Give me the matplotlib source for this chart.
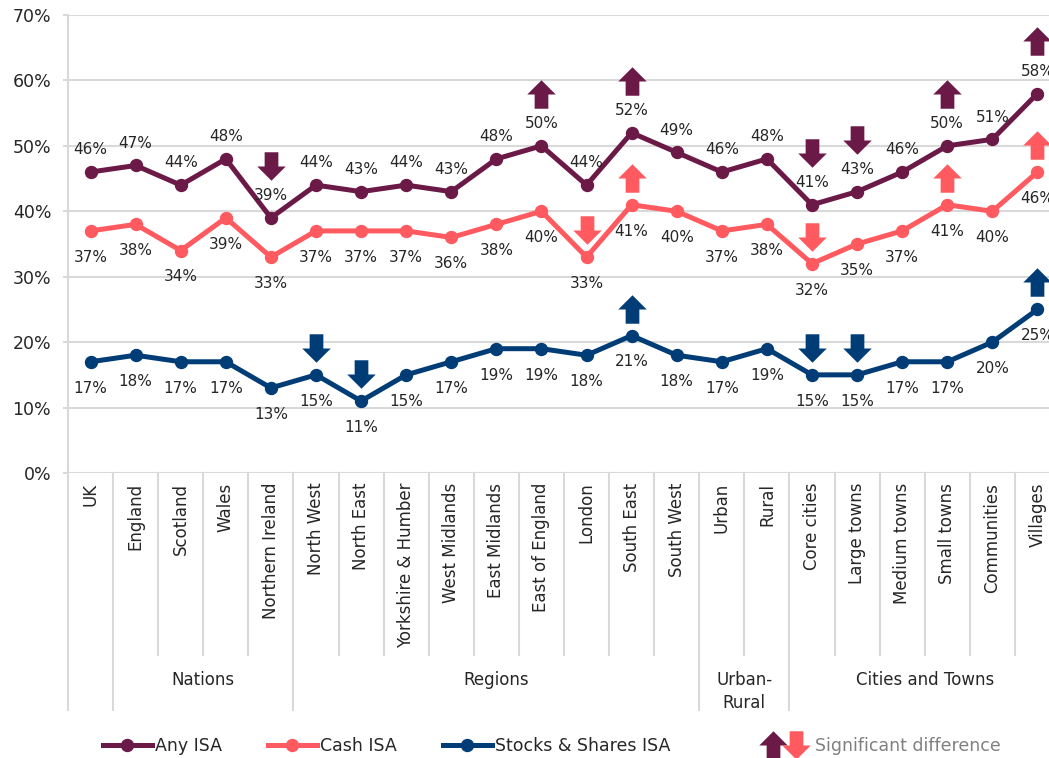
import matplotlib.pyplot as plt
import matplotlib.transforms as mtransforms
from matplotlib.lines import Line2D
from matplotlib.path import Path
from matplotlib.legend_handler import HandlerTuple

categories = ["UK", "England", "Scotland", "Wales", "Northern Ireland",
              "North West", "North East", "Yorkshire & Humber", "West Midlands",
              "East Midlands", "East of England", "London", "South East",
              "South West", "Urban", "Rural", "Core cities", "Large towns",
              "Medium towns", "Small towns", "Communities", "Villages"]

any_isa = [46, 47, 44, 48, 39, 44, 43, 44, 43, 48, 50, 44, 52, 49, 46, 48,
           41, 43, 46, 50, 51, 58]
cash_isa = [37, 38, 34, 39, 33, 37, 37, 37, 36, 38, 40, 33, 41, 40, 37, 38,
            32, 35, 37, 41, 40, 46]
stocks_isa = [17, 18, 17, 17, 13, 15, 11, 15, 17, 19, 19, 18, 21, 18, 17, 19,
              15, 15, 17, 17, 20, 25]

# significant difference vs UK: +1 higher, -1 lower, 0 none
any_sig = [0, 0, 0, 0, -1, 0, 0, 0, 0, 0, 1, 0, 1, 0, 0, 0, -1, -1, 0, 1, 0, 1]
cash_sig = [0, 0, 0, 0, 0, 0, 0, 0, 0, 0, 0, -1, 1, 0, 0, 0, -1, 0, 0, 1, 0, 1]
stocks_sig = [0, 0, 0, 0, 0, -1, -1, 0, 0, 0, 0, 0, 1, 0, 0, 0, -1, -1, 0, 0, 0, 1]

# (label, first index, end index)
groups = [("", 0, 1), ("Nations", 1, 5), ("Regions", 5, 14),
          ("Urban-\nRural", 14, 16), ("Cities and Towns", 16, 22)]

PURPLE = "#6B1946"
CORAL = "#FF5A5F"
NAVY = "#003D76"
GRID = "#D9D9D9"
TEXT = "#262626"

# block arrow marker shapes
up_verts = [(-6.5, -13.5), (6.5, -13.5), (6.5, 0), (13.5, 0), (0, 13.5),
            (-13.5, 0), (-6.5, 0), (-6.5, -13.5)]
UP = Path(up_verts, closed=True)
DOWN = Path([(x, -y) for x, y in up_verts], closed=True)
ARROW_MS = 20.5

fig = plt.figure(figsize=(10.49, 7.58), dpi=100)
ax = fig.add_axes([68 / 1049, 285 / 758, 992 / 1049, 458 / 758])

x = list(range(len(categories)))

series = [
    ("Any ISA", any_isa, any_sig, PURPLE, 16, 37.5),
    ("Cash ISA", cash_isa, cash_sig, CORAL, -19, 19.5),
    ("Stocks & Shares ISA", stocks_isa, stocks_sig, NAVY, -19, 19.5),
]

for name, vals, sig, col, lab_dy, arr_dy in series:
    ax.plot(x, vals, color=col, lw=3.6, marker="o", ms=8.6, zorder=3,
            solid_capstyle="round")
    for i, v in enumerate(vals):
        ax.annotate(f"{v}%", (i, v), xytext=(0, lab_dy),
                    textcoords="offset points", ha="center", va="center",
                    fontsize=11, color=TEXT, zorder=4)
    arr_tr = mtransforms.offset_copy(ax.transData, fig=fig, x=0, y=arr_dy,
                                     units="points")
    for i, s in enumerate(sig):
        if s:
            ax.plot(i, vals[i], marker=UP if s > 0 else DOWN, ms=ARROW_MS,
                    color=col, mec="none", transform=arr_tr, zorder=5,
                    clip_on=False)

ax.set_xlim(-0.5, len(categories) - 0.5)
ax.set_ylim(0, 70)
ax.set_yticks(range(0, 71, 10))
ax.set_yticklabels([f"{t}%" for t in range(0, 71, 10)])
ax.grid(axis="y", color=GRID, lw=1.5, zorder=0)
ax.set_axisbelow(True)
for side in ["top", "right", "bottom"]:
    ax.spines[side].set_visible(False)
ax.spines["left"].set_color(GRID)
ax.spines["left"].set_linewidth(1.5)
ax.tick_params(axis="y", length=3.6, width=1.5, color=GRID, pad=8.5,
               labelsize=12.5, labelcolor=TEXT)

ax.set_xticks(x)
ax.set_xticklabels(categories, rotation=90, fontsize=12, color=TEXT)
ax.tick_params(axis="x", length=0, pad=7)

# separators under the axis: short ones between categories, long ones between groups
sep_tr = ax.get_xaxis_transform()
group_edges = {g[1] for g in groups} | {len(categories)}
for b in range(len(categories) + 1):
    bottom = -0.517 if b in group_edges else -0.397
    ax.plot([b - 0.5, b - 0.5], [0, bottom], color=GRID, lw=1.5,
            transform=sep_tr, clip_on=False)

for label, start, end in groups:
    if label:
        ax.text((start + end - 1) / 2, -0.432, label, transform=sep_tr,
                ha="center", va="top", fontsize=12, color=TEXT,
                linespacing=1.35)

handles = [Line2D([], [], color=c, lw=3.6, marker="o", ms=8.6)
           for c in (PURPLE, CORAL, NAVY)]
leg1 = fig.legend(handles, [s[0] for s in series], loc="center left",
                  bbox_to_anchor=(103 / 1049, 12 / 758), ncol=3,
                  frameon=False, fontsize=12.5, handlelength=2.8,
                  handletextpad=0.2, columnspacing=2.65, borderpad=0,
                  borderaxespad=0)
for t in leg1.get_texts():
    t.set_color(TEXT)

sig_handle = (Line2D([], [], marker=UP, ms=ARROW_MS, color=PURPLE, ls="none", mec="none"),
              Line2D([], [], marker=DOWN, ms=ARROW_MS, color=CORAL, ls="none", mec="none"))
leg2 = fig.legend([sig_handle], ["Significant difference"], loc="center left",
                  bbox_to_anchor=(762 / 1049, 12 / 758), frameon=False,
                  fontsize=12.5, handlelength=2.6, handletextpad=0.45,
                  borderpad=0, borderaxespad=0,
                  handler_map={tuple: HandlerTuple(ndivide=None, pad=0)})
leg2.get_texts()[0].set_color("#808080")

fig.savefig("out.png", dpi=100)
